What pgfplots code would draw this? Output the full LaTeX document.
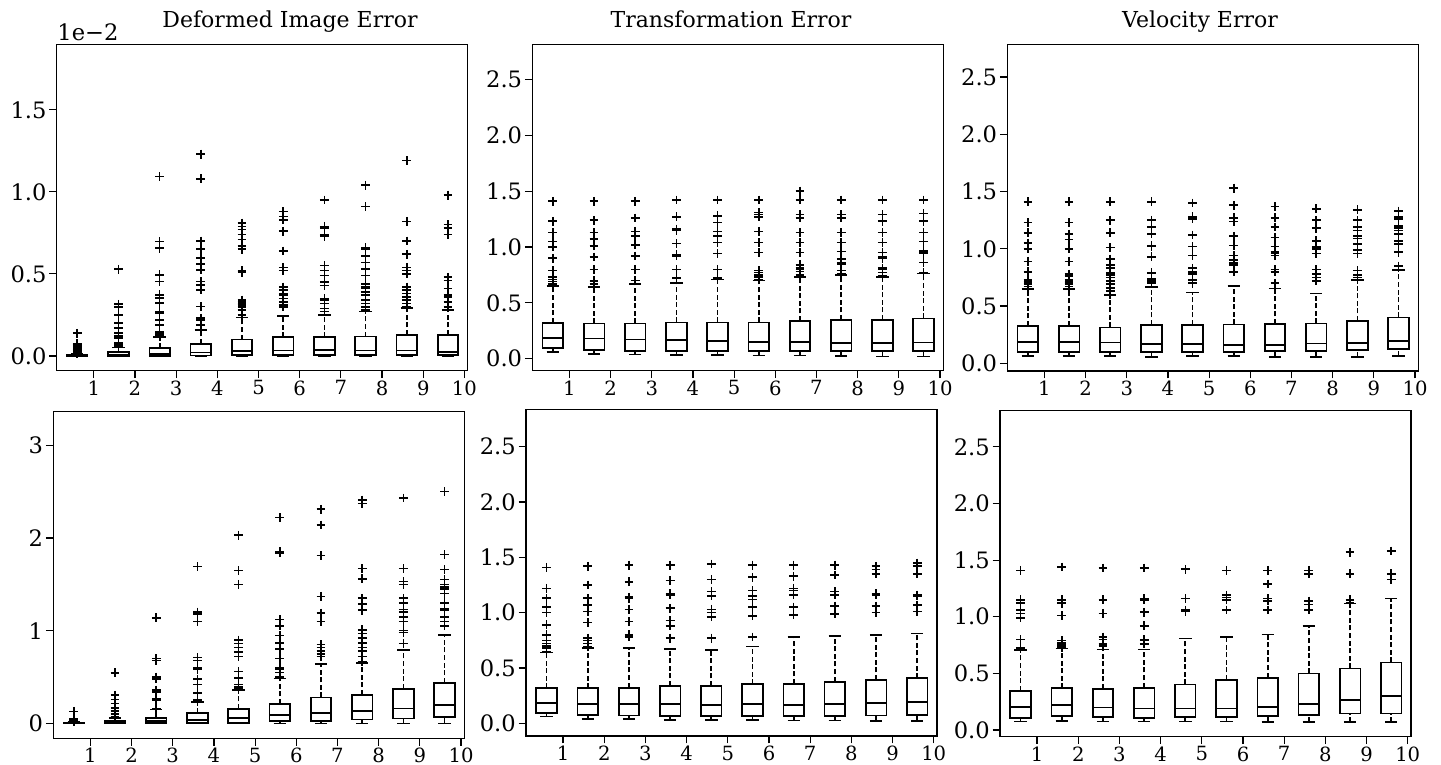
\documentclass[border=0pt]{standalone}
\usepackage{fontspec}
\setmainfont{DejaVu Serif}
\usepackage{pgfplots}
\pgfplotsset{compat=1.18}
\usepgfplotslibrary{statistics}

% one box: position, lower whisker, lower quartile, median, upper quartile, upper whisker, outliers
\newcommand\bx[7]{\addplot[bxs, boxplot prepared={draw position=#1, lower whisker=#2,
  lower quartile=#3, median=#4, upper quartile=#5, upper whisker=#6}]
  table[row sep=\\, y index=0] {y\\#7};}

\pgfplotsset{
  boxplot/draw direction=y,
  boxplot/box extend=0.5,
  boxplot/whisker extend=0.3,
  boxplot/draw/lower whisker/.code={%
    \draw[dash pattern=on 2.5pt off 1.3pt] (boxplot cs:\pgfplotsboxplotvalue{lower whisker}) -- (boxplot cs:\pgfplotsboxplotvalue{lower quartile});
    \draw[solid] (boxplot whisker cs:\pgfplotsboxplotvalue{lower whisker},0) -- (boxplot whisker cs:\pgfplotsboxplotvalue{lower whisker},1);
  },
  boxplot/draw/upper whisker/.code={%
    \draw[dash pattern=on 2.5pt off 1.3pt] (boxplot cs:\pgfplotsboxplotvalue{upper quartile}) -- (boxplot cs:\pgfplotsboxplotvalue{upper whisker});
    \draw[solid] (boxplot whisker cs:\pgfplotsboxplotvalue{upper whisker},0) -- (boxplot whisker cs:\pgfplotsboxplotvalue{upper whisker},1);
  },
  bxs/.style={black, line width=0.85pt, solid, mark=+, mark size=2.2pt,
    mark options={solid, line width=0.8pt}},
  panel/.style={
    scale only axis, width=205.5pt, height=163.25pt, anchor=south west,
    xmin=0.1, xmax=10.08, xtick={1,2,3,4,5,6,7,8,9,10},
    xticklabels={1,2,3,4,5,6,7,8,9,10},
    tick align=outside, xtick pos=left, ytick pos=left,
    major tick length=3.7pt,
    axis line style={line width=0.6pt},
    every tick/.style={black, line width=0.6pt},
    xticklabel style={font=\fontsize{9.8}{10}\selectfont, inner ysep=1pt},
    yticklabel style={font=\fontsize{11.3}{12}\selectfont, inner xsep=1.2pt},
  },
  tenth/.style={ytick={0,0.5,1,1.5,2,2.5}, yticklabels={0.0,0.5,1.0,1.5,2.0,2.5}},
}

\begin{document}
\begin{tikzpicture}
\useasboundingbox (0,0) rectangle (720.5pt,382.5pt);

% ---- top left: deformed image error (x 1e-2)
\begin{axis}[panel, at={(28.35pt,197.15pt)}, ymin=-0.09, ymax=1.9,
  ytick={0,0.5,1,1.5}, yticklabels={0.0,0.5,1.0,1.5}]
\bx{0.6}{0}{0}{0.002}{0.005}{0.012}{0.015\\0.02\\0.025\\0.03\\0.035\\0.04\\0.045\\0.05\\0.055\\0.06\\0.065\\0.07\\0.075\\0.138\\}
\bx{1.6}{0}{0.001}{0.005}{0.022}{0.052}{0.057\\0.062\\0.067\\0.072\\0.077\\0.11\\0.12\\0.138\\0.169\\0.2\\0.25\\0.30\\0.315\\0.528\\}
\bx{2.6}{0}{0.001}{0.01}{0.047}{0.115}{0.12\\0.128\\0.135\\0.142\\0.148\\0.189\\0.22\\0.26\\0.27\\0.321\\0.352\\0.372\\0.453\\0.494\\0.657\\0.697\\1.093\\}
\bx{3.6}{0}{0.002}{0.02}{0.073}{0.158}{0.159\\0.189\\0.22\\0.23\\0.301\\0.402\\0.433\\0.453\\0.524\\0.559\\0.596\\0.65\\0.701\\1.079\\1.23\\}
\bx{4.6}{0}{0.006}{0.03}{0.10}{0.234}{0.25\\0.28\\0.30\\0.31\\0.32\\0.33\\0.34\\0.51\\0.52\\0.65\\0.67\\0.71\\0.74\\0.77\\0.79\\0.81\\}
\bx{5.6}{0}{0.005}{0.033}{0.114}{0.244}{0.30\\0.31\\0.33\\0.35\\0.37\\0.38\\0.40\\0.42\\0.52\\0.54\\0.64\\0.76\\0.83\\0.85\\0.88\\}
\bx{6.6}{0}{0.006}{0.037}{0.114}{0.25}{0.27\\0.29\\0.32\\0.34\\0.35\\0.43\\0.45\\0.49\\0.52\\0.55\\0.73\\0.74\\0.78\\0.79\\0.95\\}
\bx{7.6}{0}{0.006}{0.033}{0.118}{0.27}{0.28\\0.30\\0.32\\0.34\\0.37\\0.39\\0.41\\0.42\\0.44\\0.49\\0.53\\0.57\\0.61\\0.65\\0.66\\0.91\\1.04\\}
\bx{8.6}{0}{0.006}{0.033}{0.128}{0.29}{0.30\\0.32\\0.34\\0.36\\0.38\\0.40\\0.42\\0.50\\0.52\\0.54\\0.62\\0.70\\0.82\\1.19\\}
\bx{9.6}{0}{0.006}{0.022}{0.128}{0.28}{0.30\\0.33\\0.36\\0.37\\0.41\\0.46\\0.48\\0.74\\0.78\\0.80\\0.98\\}
\end{axis}

% ---- top middle: transformation error
\begin{axis}[panel, tenth, at={(266.15pt,197.15pt)}, ymin=-0.107, ymax=2.815]
\bx{0.6}{0.063}{0.098}{0.188}{0.322}{0.65}{0.67\\0.69\\0.71\\0.73\\0.79\\0.9\\1.0\\1.05\\1.13\\1.23\\1.41\\}
\bx{1.6}{0.042}{0.078}{0.182}{0.316}{0.64}{0.67\\0.69\\0.7\\0.8\\0.91\\1.01\\1.07\\1.13\\1.24\\1.41\\}
\bx{2.6}{0.039}{0.072}{0.173}{0.316}{0.668}{0.7\\0.8\\0.92\\1.02\\1.1\\1.14\\1.26\\1.41\\}
\bx{3.6}{0.036}{0.072}{0.167}{0.325}{0.68}{0.72\\0.8\\0.92\\0.93\\1.03\\1.15\\1.16\\1.27\\1.42\\}
\bx{4.6}{0.036}{0.072}{0.158}{0.325}{0.71}{0.71\\0.72\\0.8\\0.94\\1.04\\1.1\\1.14\\1.22\\1.28\\1.42\\}
\bx{5.6}{0.03}{0.069}{0.152}{0.325}{0.70}{0.71\\0.73\\0.75\\0.77\\0.79\\0.95\\1.04\\1.14\\1.27\\1.29\\1.31\\1.42\\}
\bx{6.6}{0.03}{0.072}{0.149}{0.337}{0.734}{0.75\\0.78\\0.8\\0.81\\0.84\\0.95\\1.04\\1.13\\1.26\\1.29\\1.42\\1.5\\}
\bx{7.6}{0.024}{0.072}{0.143}{0.346}{0.749}{0.76\\0.79\\0.85\\0.86\\0.89\\0.96\\1.04\\1.13\\1.26\\1.29\\1.42\\}
\bx{8.6}{0.021}{0.072}{0.14}{0.346}{0.734}{0.74\\0.77\\0.8\\0.81\\0.9\\0.91\\0.95\\1.04\\1.13\\1.23\\1.29\\1.42\\}
\bx{9.6}{0.021}{0.072}{0.146}{0.361}{0.764}{0.77\\0.86\\0.94\\0.95\\0.96\\0.97\\1.05\\1.13\\1.23\\1.3\\1.42\\}
\end{axis}

% ---- top right: velocity error
\begin{axis}[panel, tenth, at={(503.65pt,197pt)}, ymin=-0.067, ymax=2.784]
\bx{0.6}{0.064}{0.10}{0.189}{0.326}{0.651}{0.67\\0.69\\0.71\\0.73\\0.8\\0.89\\1.0\\1.05\\1.14\\1.23\\1.41\\}
\bx{1.6}{0.064}{0.10}{0.186}{0.326}{0.651}{0.67\\0.69\\0.7\\0.71\\0.73\\0.76\\0.78\\0.89\\1.0\\1.08\\1.13\\1.23\\1.41\\}
\bx{2.6}{0.064}{0.10}{0.183}{0.314}{0.596}{0.6\\0.63\\0.66\\0.69\\0.72\\0.75\\0.77\\0.79\\0.83\\0.86\\0.91\\1.01\\1.14\\1.25\\1.41\\}
\bx{3.6}{0.058}{0.10}{0.166}{0.334}{0.669}{0.7\\0.71\\0.72\\0.73\\0.74\\0.79\\0.93\\1.02\\1.03\\1.13\\1.19\\1.25\\1.41\\}
\bx{4.6}{0.064}{0.10}{0.166}{0.334}{0.619}{0.7\\0.73\\0.78\\0.79\\0.8\\0.83\\0.94\\1.02\\1.12\\1.26\\1.28\\1.4\\}
\bx{5.6}{0.064}{0.10}{0.16}{0.34}{0.677}{0.8\\0.86\\0.87\\0.88\\0.9\\0.94\\1.03\\1.11\\1.24\\1.27\\1.38\\1.53\\}
\bx{6.6}{0.058}{0.108}{0.16}{0.343}{0.654}{0.7\\0.8\\0.82\\0.94\\0.96\\0.97\\1.02\\1.1\\1.19\\1.27\\1.37\\}
\bx{7.6}{0.058}{0.11}{0.172}{0.349}{0.61}{0.72\\0.75\\0.78\\0.82\\0.96\\1.0\\1.01\\1.02\\1.07\\1.18\\1.25\\1.35\\}
\bx{8.6}{0.058}{0.116}{0.18}{0.369}{0.727}{0.73\\0.75\\0.77\\0.81\\0.96\\0.99\\1.04\\1.09\\1.11\\1.16\\1.19\\1.25\\1.34\\}
\bx{9.6}{0.064}{0.122}{0.195}{0.401}{0.814}{0.85\\0.97\\1.04\\1.07\\1.13\\1.16\\1.18\\1.2\\1.26\\1.28\\1.33\\}
\end{axis}

% ---- bottom left: deformed image error
\begin{axis}[panel, at={(26.65pt,13.35pt)}, ymin=-0.16, ymax=3.36,
  ytick={0,1,2,3}, yticklabels={0,1,2,3}]
\bx{0.6}{0}{0}{0.003}{0.008}{0.02}{0.025\\0.03\\0.035\\0.04\\0.045\\0.05\\0.055\\0.13\\}
\bx{1.6}{0}{0.003}{0.01}{0.03}{0.06}{0.07\\0.10\\0.133\\0.169\\0.216\\0.259\\0.305\\0.546\\}
\bx{2.6}{0}{0.004}{0.03}{0.06}{0.15}{0.16\\0.25\\0.27\\0.34\\0.36\\0.48\\0.50\\0.68\\0.70\\1.14\\}
\bx{3.6}{0}{0.005}{0.036}{0.11}{0.23}{0.24\\0.26\\0.33\\0.42\\0.48\\0.58\\0.60\\0.68\\0.71\\1.10\\1.18\\1.20\\1.69\\}
\bx{4.6}{0}{0.007}{0.06}{0.155}{0.36}{0.38\\0.40\\0.42\\0.49\\0.56\\0.72\\0.77\\0.82\\0.86\\0.90\\1.50\\1.65\\2.03\\}
\bx{5.6}{0}{0.025}{0.09}{0.21}{0.485}{0.50\\0.55\\0.58\\0.60\\0.70\\0.80\\0.87\\0.95\\1.05\\1.12\\1.84\\1.85\\2.22\\}
\bx{6.6}{0}{0.03}{0.115}{0.28}{0.64}{0.72\\0.75\\0.78\\0.82\\0.85\\1.10\\1.19\\1.37\\1.81\\2.14\\2.31\\}
\bx{7.6}{0}{0.043}{0.137}{0.31}{0.654}{0.67\\0.72\\0.78\\0.82\\0.87\\0.92\\0.97\\1.01\\1.22\\1.29\\1.35\\1.56\\1.67\\2.37\\2.41\\}
\bx{8.6}{0}{0.054}{0.162}{0.374}{0.79}{0.86\\0.98\\1.0\\1.1\\1.15\\1.2\\1.23\\1.3\\1.35\\1.5\\1.53\\1.67\\2.43\\}
\bx{9.6}{0}{0.072}{0.198}{0.438}{0.952}{1.05\\1.1\\1.15\\1.22\\1.24\\1.3\\1.4\\1.45\\1.47\\1.5\\1.55\\1.66\\1.82\\2.5\\}
\end{axis}

% ---- bottom middle: transformation error
\begin{axis}[panel, tenth, at={(263pt,14.5pt)}, ymin=-0.115, ymax=2.837]
\bx{0.6}{0.06}{0.096}{0.181}{0.316}{0.64}{0.65\\0.68\\0.7\\0.72\\0.75\\0.8\\0.89\\1.0\\1.05\\1.13\\1.22\\1.41\\}
\bx{1.6}{0.04}{0.075}{0.175}{0.316}{0.678}{0.69\\0.72\\0.75\\0.77\\0.91\\1.01\\1.07\\1.13\\1.25\\1.42\\}
\bx{2.6}{0.036}{0.069}{0.172}{0.322}{0.678}{0.78\\0.8\\0.92\\1.03\\1.13\\1.14\\1.28\\1.43\\}
\bx{3.6}{0.03}{0.066}{0.172}{0.337}{0.672}{0.77\\0.88\\0.93\\1.04\\1.16\\1.17\\1.29\\1.43\\}
\bx{4.6}{0.03}{0.066}{0.163}{0.337}{0.663}{0.77\\0.96\\1.0\\1.03\\1.15\\1.19\\1.3\\1.44\\}
\bx{5.6}{0.03}{0.066}{0.172}{0.352}{0.693}{0.78\\0.97\\1.05\\1.12\\1.15\\1.2\\1.32\\1.43\\}
\bx{6.6}{0.024}{0.066}{0.163}{0.355}{0.783}{0.98\\1.05\\1.16\\1.2\\1.22\\1.33\\1.43\\}
\bx{7.6}{0.024}{0.066}{0.175}{0.376}{0.792}{0.99\\1.06\\1.16\\1.19\\1.34\\1.43\\}
\bx{8.6}{0.021}{0.069}{0.181}{0.392}{0.798}{1.0\\1.06\\1.16\\1.17\\1.35\\1.39\\1.42\\}
\bx{9.6}{0.021}{0.072}{0.19}{0.407}{0.813}{1.01\\1.07\\1.15\\1.16\\1.35\\1.42\\1.45\\}
\end{axis}

% ---- bottom right: velocity error
\begin{axis}[panel, tenth, at={(500pt,14.15pt)}, ymin=-0.059, ymax=2.824]
\bx{0.6}{0.074}{0.103}{0.206}{0.347}{0.706}{0.72\\0.73\\0.8\\0.99\\1.03\\1.06\\1.12\\1.15\\1.41\\}
\bx{1.6}{0.08}{0.126}{0.22}{0.368}{0.72}{0.73\\0.74\\0.75\\0.77\\0.79\\1.01\\1.12\\1.15\\1.44\\}
\bx{2.6}{0.074}{0.112}{0.2}{0.362}{0.712}{0.74\\0.76\\0.8\\0.82\\1.03\\1.15\\1.43\\}
\bx{3.6}{0.074}{0.109}{0.191}{0.374}{0.712}{0.76\\0.79\\0.8\\0.92\\1.04\\1.15\\1.16\\1.43\\}
\bx{4.6}{0.074}{0.112}{0.191}{0.403}{0.809}{1.05\\1.06\\1.16\\1.42\\}
\bx{5.6}{0.074}{0.118}{0.191}{0.441}{0.824}{1.06\\1.15\\1.17\\1.19\\1.41\\}
\bx{6.6}{0.068}{0.124}{0.206}{0.462}{0.844}{1.06\\1.14\\1.16\\1.29\\1.41\\}
\bx{7.6}{0.068}{0.132}{0.229}{0.5}{0.918}{1.06\\1.11\\1.14\\1.38\\1.41\\}
\bx{8.6}{0.068}{0.147}{0.265}{0.544}{1.118}{1.12\\1.15\\1.38\\1.57\\}
\bx{9.6}{0.068}{0.147}{0.303}{0.597}{1.162}{1.33\\1.38\\1.58\\}
\end{axis}

% titles and offset label
\node[anchor=base, font=\fontsize{11}{13}\selectfont] at (145pt,368.5pt) {Deformed Image Error};
\node[anchor=base, font=\fontsize{11}{13}\selectfont] at (365.5pt,368.5pt) {Transformation Error};
\node[anchor=base, font=\fontsize{11}{13}\selectfont] at (600pt,368.5pt) {Velocity Error};
\node[anchor=base west, inner sep=0pt, font=\fontsize{11.3}{12}\selectfont] at (28.5pt,362pt) {1e−2};
\end{tikzpicture}
\end{document}
